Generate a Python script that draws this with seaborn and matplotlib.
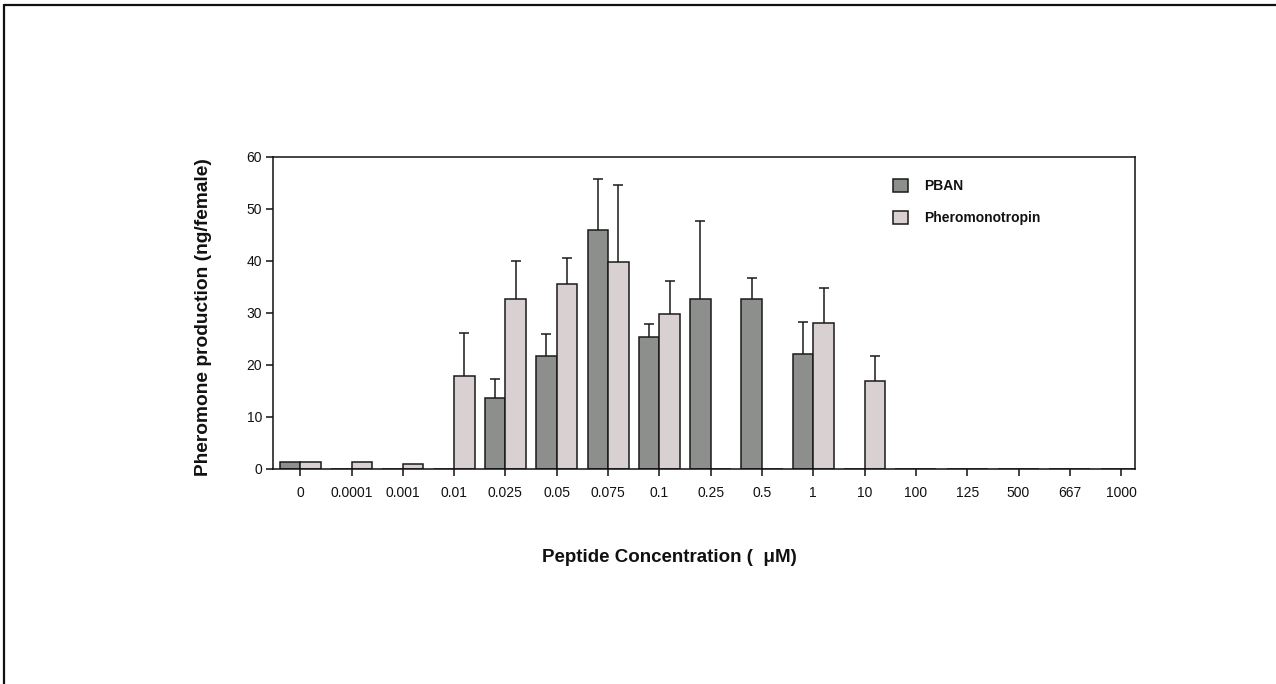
import numpy as np
import pandas as pd
import matplotlib
matplotlib.use("Agg")
import matplotlib.pyplot as plt
from matplotlib.lines import Line2D
import seaborn as sns

categories = ["0", "0.0001", "0.001", "0.01", "0.025", "0.05", "0.075", "0.1",
              "0.25", "0.5", "1", "10", "100", "125", "500", "667", "1000"]
pban = [1.3, 0, 0, 0, 13.7, 21.7, 46.0, 25.4, 32.6, 32.6, 22.2, 0, 0, 0, 0, 0, 0]
pban_err = [0, 0, 0, 0, 3.6, 4.2, 9.7, 2.5, 15.1, 4.2, 6.0, 0, 0, 0, 0, 0, 0]
phero = [1.3, 1.3, 0.9, 17.9, 32.6, 35.6, 39.9, 29.9, 0, 0, 28.1, 16.9, 0, 0, 0, 0, 0]
phero_err = [0, 0, 0, 8.3, 7.4, 4.9, 14.8, 6.3, 0, 0, 6.8, 4.9, 0, 0, 0, 0, 0]
series = ["PBAN", "Pheromonotropin"]
colors = ["#8d8f8c", "#d9d0d1"]
yticks = [0, 10, 20, 30, 40, 50, 60]

sns.set_theme(style="white")
plt.rcParams["font.family"] = ["Liberation Sans", "DejaVu Sans"]

df = pd.DataFrame({
    "conc": categories * 2,
    "value": pban + phero,
    "peptide": [series[0]] * len(categories) + [series[1]] * len(categories),
})

fig = plt.figure(figsize=(12.76, 6.84), dpi=100)
ax = fig.add_axes([273 / 1276, 1 - 469 / 684, (1135 - 273) / 1276, (469 - 157) / 684])

sns.barplot(data=df, x="conc", y="value", hue="peptide", order=categories,
            hue_order=series, palette=colors, width=0.8, errorbar=None,
            edgecolor="#1a1a1a", linewidth=1.1, saturation=1, ax=ax)

for cont, errs in zip(ax.containers, [pban_err, phero_err]):
    xs, ys, es = [], [], []
    for bar, e in zip(cont, errs):
        if e > 0:
            xs.append(bar.get_x() + bar.get_width() / 2)
            ys.append(bar.get_height())
            es.append(e)
    if xs:
        eb = ax.errorbar(xs, ys, yerr=[np.zeros(len(es)), es], fmt="none",
                         ecolor="#1a1a1a", elinewidth=1.1, capsize=3.8,
                         capthick=1.1, zorder=1)
        caps = eb.lines[1]
        if len(caps) > 1:
            caps[0].set_visible(False)

ax.set_xlim(-0.53, 16.27)
ax.set_ylim(0, 60)
ax.set_yticks(yticks)
ax.set_yticklabels([str(t) for t in yticks])
for s in ax.spines.values():
    s.set_visible(True)
    s.set_color("#111111")
    s.set_linewidth(1.1)
ax.tick_params(axis="both", which="both", direction="out", length=5, width=1.1,
               color="#111111", labelsize=10, labelcolor="#111111", pad=3,
               bottom=True, left=True)
ax.tick_params(axis="x", pad=7)

ax.set_xlabel("Peptide Concentration (  \u03bcM)", fontsize=13.5, fontweight="bold",
              color="#111111")
ax.xaxis.set_label_coords(0.46, -0.257)
ax.set_ylabel("Pheromone production (ng/female)", fontsize=13.8, fontweight="bold",
              color="#111111")
ax.yaxis.set_label_coords(-0.071, 0.486)

leg = ax.legend(loc="upper left", bbox_to_anchor=(887 / 1276, 1 - 173 / 684),
                bbox_transform=fig.transFigure, frameon=False, fontsize=10,
                handlelength=1.08, handleheight=1.08, labelspacing=1.3,
                handletextpad=1.2, borderaxespad=0)
for t in leg.get_texts():
    t.set_fontweight("bold")
    t.set_color("#111111")

# outer frame (top and left edges visible)
fig.add_artist(Line2D([4 / 1276, 1], [1 - 5 / 684, 1 - 5 / 684], transform=fig.transFigure,
                      color="#111111", linewidth=1.6))
fig.add_artist(Line2D([4 / 1276, 4 / 1276], [0, 1 - 5 / 684], transform=fig.transFigure,
                      color="#111111", linewidth=1.6))

fig.savefig("out.png", dpi=100)
